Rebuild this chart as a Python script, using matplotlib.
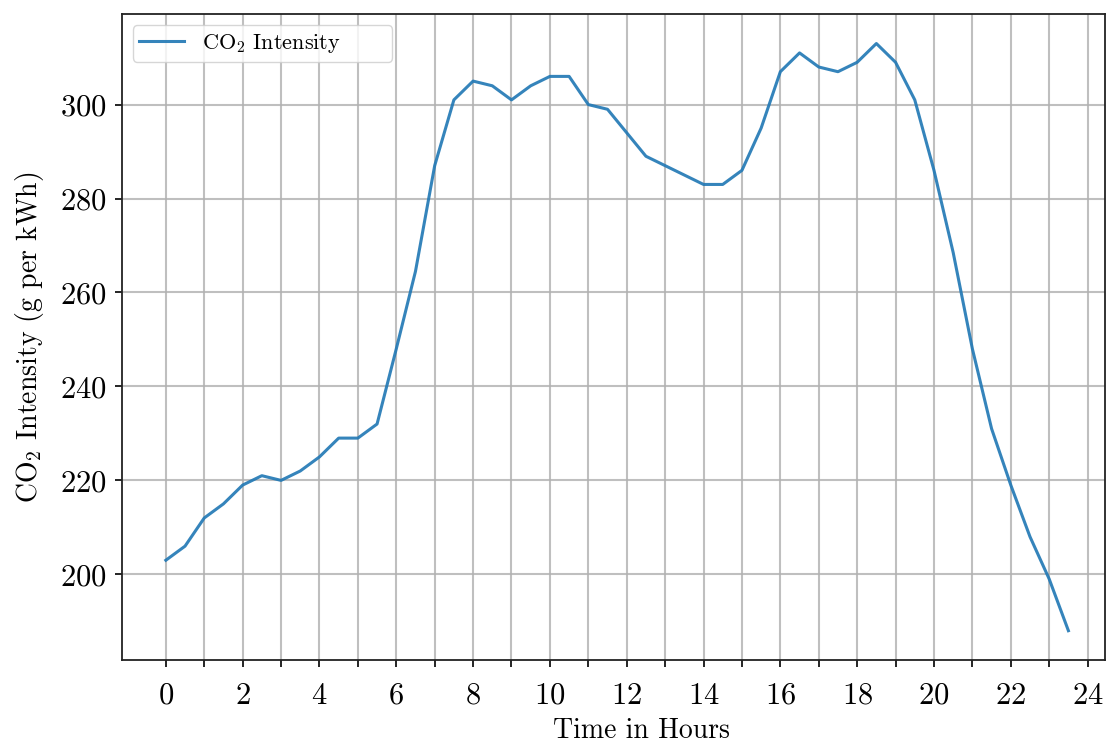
import numpy as np
import matplotlib
matplotlib.use('Agg')
import matplotlib.pyplot as plt
from matplotlib.ticker import MultipleLocator, FixedLocator

# half-hourly CO2 intensity over one day
hours = [i * 0.5 for i in range(48)]
intensity = [203, 206, 212, 215, 219, 221, 220, 222, 225, 229, 229, 232,
             248, 264.5, 287, 301, 305, 304, 301, 304, 306, 306, 300, 299,
             294, 289, 287, 285, 283, 283, 286, 295, 307, 311, 308, 307,
             309, 313, 309, 301, 286, 268.5, 248, 231, 219, 208, 199, 188]

plt.rcParams['font.family'] = 'serif'
plt.rcParams['font.serif'] = ['cmr10']
plt.rcParams['mathtext.fontset'] = 'cm'
plt.rcParams['axes.formatter.use_mathtext'] = True

fig = plt.figure(figsize=(11.06, 7.45), dpi=100)
ax = fig.add_axes([0.110, 0.114, 0.889, 0.867])

ax.plot(hours, intensity, color='#1f77b4', lw=2.2, alpha=0.9,
        label='CO$_2$ Intensity' + ' ' * 7)

ax.set_xlim(-1.15, 24.45)
ax.set_ylim(181.75, 319.25)

ax.xaxis.set_major_locator(MultipleLocator(2))
ax.xaxis.set_minor_locator(FixedLocator(range(1, 24, 2)))
ax.yaxis.set_major_locator(MultipleLocator(20))

ax.grid(True, which='both', axis='x', color='#b0b0b0', alpha=0.8, lw=1.5)
ax.grid(True, which='major', axis='y', color='#b0b0b0', alpha=0.8, lw=1.5)

ax.tick_params(axis='y', which='major', labelsize=22, length=5, width=1.2, pad=6)
ax.tick_params(axis='x', which='major', labelsize=22, length=5, width=1.2, pad=11)
ax.tick_params(axis='x', which='minor', length=5, width=1.2)

for s in ax.spines.values():
    s.set_linewidth(1.3)
    s.set_color('#222222')

ax.set_xlabel('Time in Hours', fontsize=20)
ax.xaxis.set_label_coords(0.529, -0.089)
ax.set_ylabel('CO$_2$ Intensity (g per kWh)', fontsize=20, labelpad=10)

ax.legend(loc='upper left', fontsize=16, framealpha=0.8,
          borderaxespad=0.5, borderpad=0.3)

plt.savefig('out.png', dpi=100)
